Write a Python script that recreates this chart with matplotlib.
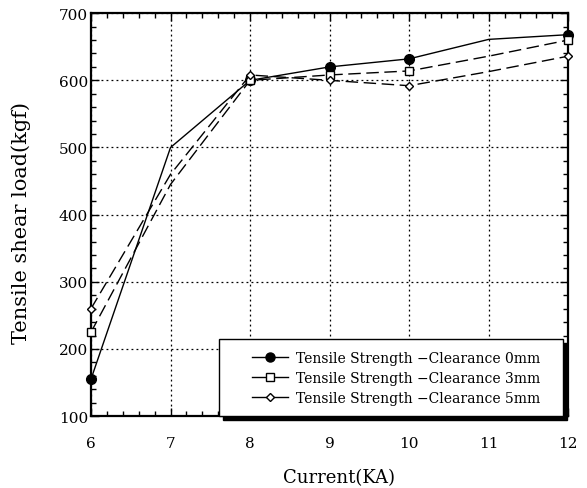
import matplotlib
matplotlib.use("Agg")
import matplotlib.pyplot as plt
from matplotlib.lines import Line2D
from matplotlib.patches import Rectangle
from matplotlib.ticker import MultipleLocator

current = [6, 7, 8, 9, 10, 11, 12]
load_0mm = [155, 500, 600, 620, 632, 661, 668]
load_3mm = [225, 445, 600, 608, 614, 636, 660]
load_5mm = [260, 460, 608, 600, 592, 613, 636]
labels = ["Tensile Strength \u2212Clearance 0mm",
          "Tensile Strength \u2212Clearance 3mm",
          "Tensile Strength \u2212Clearance 5mm"]
mark_idx = [0, 2, 3, 4, 6]

plt.rcParams['font.family'] = ['DejaVu Serif', 'DejaVu Sans']
fig = plt.figure(figsize=(5.87, 4.89), dpi=100)
ax = fig.add_axes([0.155, 0.147, 0.813, 0.824])

ax.plot(current, load_0mm, '-', color='black', lw=1.0, marker='o', ms=7,
        mfc='black', mec='black', markevery=mark_idx, clip_on=False, zorder=5)
ax.plot(current, load_3mm, color='black', lw=1.0, dashes=(9, 4), marker='s', ms=6,
        mfc='white', mec='black', markevery=mark_idx, clip_on=False, zorder=5)
ax.plot(current, load_5mm, color='black', lw=1.0, dashes=(9, 4), marker='D', ms=4,
        mfc='white', mec='black', markevery=mark_idx, clip_on=False, zorder=5)

ax.set_xlim(6, 12)
ax.set_ylim(100, 700)
ax.xaxis.set_major_locator(MultipleLocator(1))
ax.xaxis.set_minor_locator(MultipleLocator(0.2))
ax.yaxis.set_major_locator(MultipleLocator(100))
ax.yaxis.set_minor_locator(MultipleLocator(20))
ax.tick_params(which='both', direction='in', top=True, right=True, color='black')
ax.tick_params(which='major', length=6, width=1.0, labelsize=11)
ax.tick_params(which='minor', length=3.5, width=1.0)
ax.tick_params(axis='x', pad=14)
ax.tick_params(axis='y', pad=2)
ax.grid(True, which='major', linestyle=(0, (1.5, 2.5)), color='black', lw=0.9)
for s in ax.spines.values():
    s.set_linewidth(1.6)

ax.set_xlabel("Current(KA)", fontsize=13)
ax.xaxis.set_label_coords(0.52, -0.129)
ax.set_ylabel("Tensile shear load(kgf)", fontsize=15)
ax.yaxis.set_label_coords(-0.125, 0.481)

handles = [
    Line2D([], [], color='black', lw=1.0, marker='o', ms=6.5, mfc='black', mec='black'),
    Line2D([], [], color='black', lw=1.0, marker='s', ms=5.5, mfc='white', mec='black'),
    Line2D([], [], color='black', lw=1.0, marker='D', ms=4, mfc='white', mec='black'),
]
leg = ax.legend(handles, labels, loc='lower right', bbox_to_anchor=(0.941, 0.027),
                fontsize=10, frameon=False, handlelength=2.6, borderpad=0.0,
                labelspacing=0.45, borderaxespad=0.0, handletextpad=0.55)
leg.set_zorder(10)

# frame with solid shadow, padded around the legend content
fig.canvas.draw()
bb = leg.get_window_extent()
inv = ax.transAxes.inverted()
pad_l, pad_r, pad_t, pad_b = 33, 23, 12, 11
(x0, y0) = inv.transform((bb.x0 - pad_l, bb.y0 - pad_b))
(x1, y1) = inv.transform((bb.x1 + pad_r, bb.y1 + pad_t))
(dx, dy) = inv.transform((bb.x0 - pad_l + 4, bb.y0 - pad_b - 4)) - [x0, y0]
shadow = Rectangle((x0 + dx, y0 + dy), x1 - x0, y1 - y0, transform=ax.transAxes,
                   facecolor='black', edgecolor='black', clip_on=False, zorder=8)
frame = Rectangle((x0, y0), x1 - x0, y1 - y0, transform=ax.transAxes,
                  facecolor='white', edgecolor='black', lw=1.0, clip_on=False, zorder=9)
ax.add_patch(shadow)
ax.add_patch(frame)

fig.savefig("out.png", dpi=100)
